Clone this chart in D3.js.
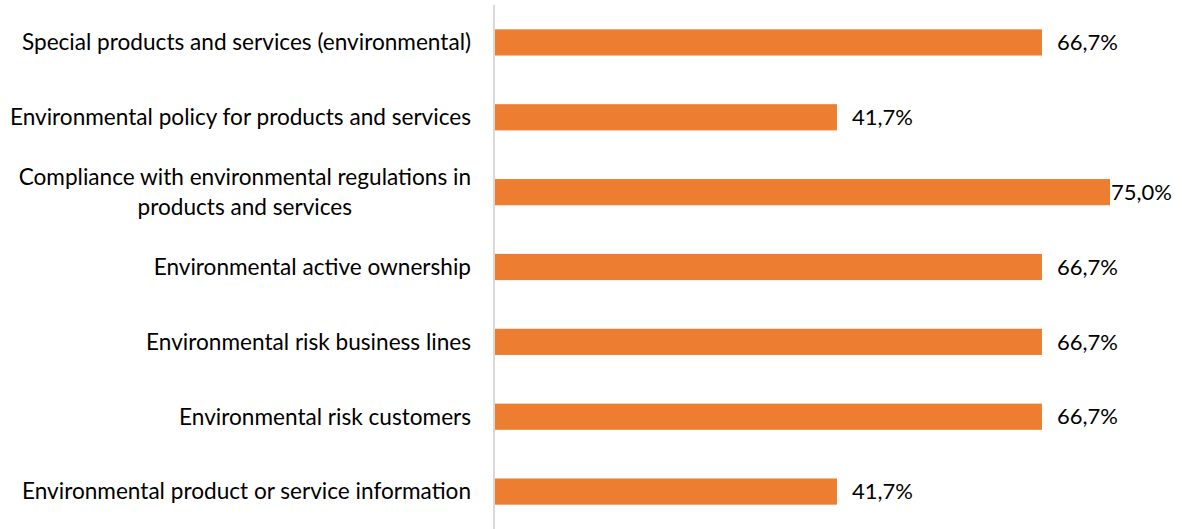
<!DOCTYPE html>
<html><head><meta charset="utf-8">
<script src="https://cdn.jsdelivr.net/npm/d3@7"></script>
<style>body{margin:0;background:#fff}svg{display:block}</style>
</head><body>
<svg id="c" width="1182" height="529"></svg>
<script>
const categories = [
  ["Special products and services (environmental)"],
  ["Environmental policy for products and services"],
  ["Compliance with environmental regulations in", "products and services"],
  ["Environmental active ownership"],
  ["Environmental risk business lines"],
  ["Environmental risk customers"],
  ["Environmental product or service information"]
];
const values = [66.7, 41.7, 75.0, 66.7, 66.7, 66.7, 41.7];
const fmt = v => v.toFixed(1).replace(".", ",") + "%";

const svg = d3.select("#c");
const font = "Lato, 'Open Sans', sans-serif";
const fs = 22.6, fsv = 22;
const x0 = 495, plotTop = 5, plotBottom = 529;
const x = d3.scaleLinear().domain([0, 75]).range([x0, 1110]);
const y = d3.scaleBand().domain(d3.range(categories.length)).range([plotTop, plotBottom]).paddingInner(0.65).paddingOuter(0.325);

svg.append("line").attr("x1", 494).attr("x2", 494).attr("y1", plotTop).attr("y2", plotBottom)
  .attr("stroke", "#d9d9d9").attr("stroke-width", 2);

svg.selectAll("rect.bar").data(values).join("rect").attr("class", "bar")
  .attr("x", x0).attr("y", (d, i) => y(i)).attr("width", d => x(d) - x0).attr("height", y.bandwidth())
  .attr("fill", "#ED7D31");

// category labels
categories.forEach((lines, i) => {
  const cy = y(i) + y.bandwidth() / 2;
  const g = svg.append("g");
  if (lines.length === 1) {
    g.append("text").attr("x", 471).attr("y", cy).attr("dy", "0.35em")
      .attr("text-anchor", "end").attr("font-family", font).attr("font-size", fs).attr("fill", "#000")
      .text(lines[0]);
  } else {
    const t = g.append("text").attr("font-family", font).attr("font-size", fs).attr("fill", "#000")
      .attr("text-anchor", "middle");
    const tmp = svg.append("text").attr("font-family", font).attr("font-size", fs).text(lines[0]);
    const w = tmp.node().getComputedTextLength(); tmp.remove();
    const cx = 471 - w / 2;
    const lh = 30;
    lines.forEach((ln, k) => {
      t.append("tspan").attr("x", cx).attr("y", cy + (k - (lines.length - 1) / 2) * lh).attr("dy", "0.35em").text(ln);
    });
  }
});

// value labels
values.forEach((v, i) => {
  const cy = y(i) + y.bandwidth() / 2;
  const t = svg.append("text").attr("y", cy).attr("dy", "0.35em")
    .attr("font-family", font).attr("font-size", fsv).attr("fill", "#000").text(fmt(v));
  const w = t.node().getComputedTextLength();
  t.attr("x", Math.min(x(v) + 15, 1172 - w));
});
</script>
</body></html>
